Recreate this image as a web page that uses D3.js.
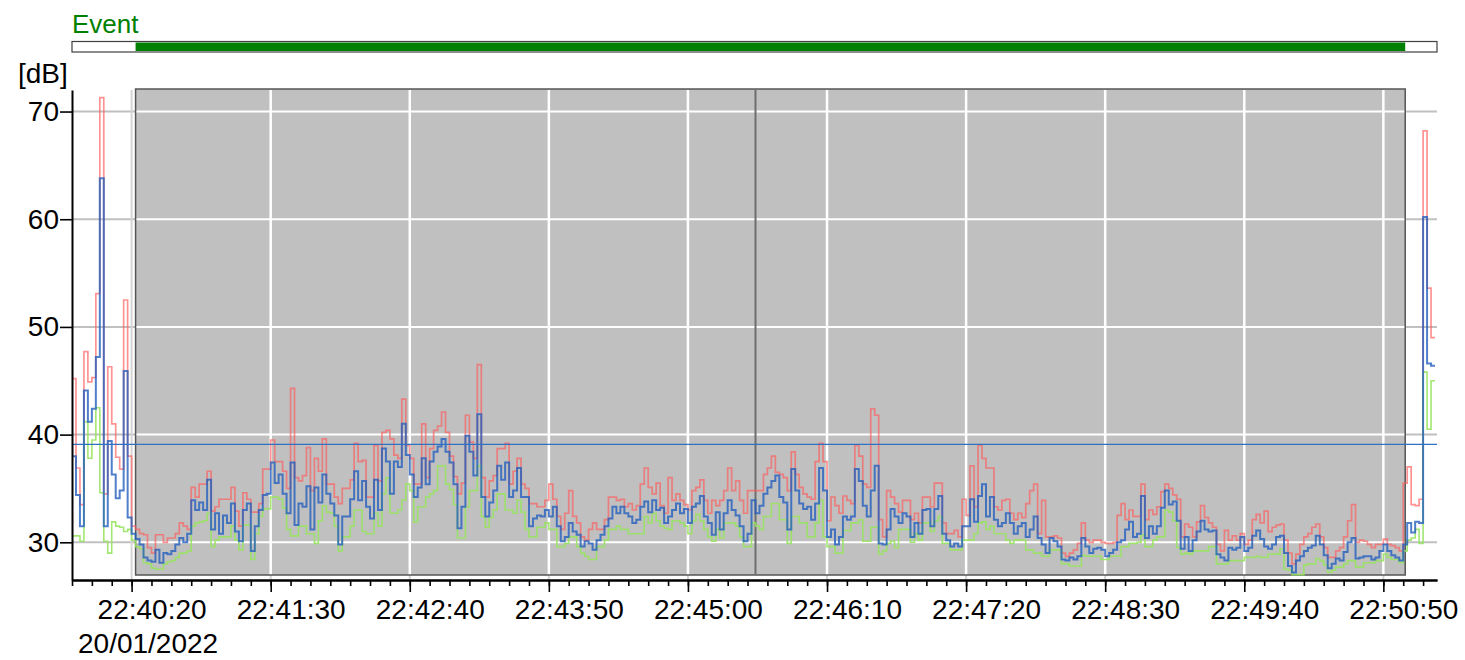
<!DOCTYPE html>
<html><head><meta charset="utf-8">
<script src="https://cdn.jsdelivr.net/npm/d3@7"></script>
<style>
body{margin:0;background:#fff;}
svg{display:block;font-family:"Liberation Sans",Arial,sans-serif;}
</style>
</head><body>
<svg id="chart" width="1465" height="660"></svg>
<script>
// ---- data ----
const seriesStart = "2022-01-20 22:39:50";
const stepSeconds = 2;
const axisStart = "2022-01-20 22:39:50";
const axisEnd = "2022-01-20 22:51:17";
const eventStart = "2022-01-20 22:40:22";
const eventEnd = "2022-01-20 22:51:01";
const cursorTime = "2022-01-20 22:45:34";
const thresholdDb = 39.1;
const yDomain = [26.5, 72];
const yTicks = [30, 40, 50, 60, 70];
const xTickLabels = ["22:40:20","22:41:30","22:42:40","22:43:50","22:45:00","22:46:10","22:47:20","22:48:30","22:49:40","22:50:50"];
const dateLabel = "20/01/2022";
const yUnit = "[dB]";
const eventLabel = "Event";

const laeq = [
38.0,34.4,31.5,44.1,41.2,42.4,47.2,63.8,31.5,39.4,36.3,34.1,34.8,45.9,32.3,
30.8,30.3,29.8,28.6,28.3,28.2,29.3,28.1,29.0,28.9,29.2,29.8,30.4,30.0,30.8,
33.9,33.0,33.7,33.0,35.8,31.2,32.7,30.8,32.5,31.8,33.6,31.0,30.1,33.0,33.6,
29.2,31.5,33.0,34.4,34.5,37.4,35.5,36.3,34.5,32.7,37.4,31.6,33.6,33.3,35.2,
31.2,35.1,33.7,36.3,34.5,33.6,32.5,29.8,32.4,32.4,34.0,36.6,33.9,35.7,33.3,32.2,35.8,33.0,38.7,37.5,
34.5,37.5,37.0,41.0,38.1,36.3,34.2,35.1,37.8,35.4,37.5,38.4,38.9,39.6,38.4,37.4,35.4,31.3,33.3,39.9,
38.4,36.2,41.9,34.2,32.4,33.7,34.8,37.1,35.8,37.4,34.2,34.8,36.9,34.2,34.2,31.5,32.2,32.5,32.4,33.0,
32.4,33.3,31.5,30.1,30.5,31.8,31.0,30.7,29.6,30.1,29.9,29.3,30.2,30.7,31.5,32.2,33.3,32.7,33.3,32.7,32.4,31.8,32.1,33.3,
33.8,32.8,33.9,33.0,33.2,31.8,32.4,33.0,33.6,32.7,33.1,31.8,33.3,33.6,34.3,32.4,31.8,30.7,32.8,31.2,
32.7,33.9,33.0,32.5,31.5,30.1,30.8,33.9,32.7,33.4,34.5,35.1,35.7,36.2,34.2,33.7,31.2,36.8,34.8,33.6,
33.1,33.3,32.1,33.6,36.9,34.8,30.5,31.2,29.8,30.5,32.4,32.1,32.4,36.8,35.7,33.4,32.4,34.8,37.1,29.9,29.8,31.2,33.1,32.4,
31.8,32.7,32.4,30.5,31.8,30.8,33.0,33.1,31.5,33.1,34.3,30.8,30.2,29.6,29.9,29.6,31.5,31.5,34.0,31.9,34.3,35.4,32.4,34.2,
32.1,31.5,31.8,32.7,31.8,30.8,31.5,31.8,30.5,31.2,32.4,30.4,29.8,29.0,30.4,30.1,29.6,28.4,28.3,28.6,28.4,28.7,30.4,29.6,
29.0,29.4,29.5,29.3,28.7,29.0,29.3,30.0,30.2,31.2,31.9,30.5,30.8,34.3,30.4,31.5,
30.8,31.5,33.2,34.8,33.5,33.8,32.0,29.4,30.5,29.2,30.2,31.0,32.0,31.2,31.0,31.1,28.9,28.6,28.3,29.5,29.3,29.5,30.5,29.2,
29.5,30.6,31.1,30.3,29.6,29.4,29.8,30.5,30.6,29.0,27.8,27.2,28.3,28.7,29.2,29.5,29.7,30.6,29.8,28.8,27.6,28.0,28.5,28.3,
29.1,30.0,30.4,28.5,28.6,28.7,28.7,28.4,28.6,29.2,29.8,29.2,28.8,28.6,28.3,29.8,31.8,30.9,31.9,31.8,60.2,46.6,46.4
];

const lafMax = [
45.2,36.9,33.5,47.7,44.9,45.3,53.1,71.3,34.5,46.3,41.0,37.9,36.8,52.5,38.0,
31.5,31.2,30.8,30.7,29.5,29.0,30.7,30.7,30.0,30.4,30.4,30.8,31.8,31.5,31.2,
35.1,34.2,35.4,35.4,36.6,32.9,33.3,34.0,34.0,34.0,35.1,32.9,31.5,34.6,34.0,
32.8,32.8,33.6,36.8,36.8,39.5,37.5,37.5,36.6,35.0,44.3,36.0,35.7,36.2,38.8,
34.8,37.8,36.6,39.6,35.4,35.4,34.2,33.6,35.0,35.0,35.8,39.2,37.5,37.6,34.2,34.2,39.0,35.7,40.2,40.4,
39.6,38.1,37.8,43.3,39.0,37.8,35.4,35.4,41.0,36.0,38.7,40.4,40.8,42.1,40.2,38.0,36.1,34.5,35.5,41.8,
39.3,37.8,46.5,36.0,34.2,35.7,36.2,38.7,38.7,39.2,35.4,36.6,37.8,35.4,35.0,33.6,33.6,33.3,33.3,33.9,
35.4,34.0,32.4,31.2,32.7,34.8,32.4,31.8,30.5,30.2,31.2,31.8,31.2,31.2,32.1,34.2,34.2,33.9,34.0,33.3,33.6,33.0,33.4,35.4,
36.9,35.1,34.5,35.5,33.4,32.7,36.0,33.9,34.5,33.9,33.5,33.0,34.8,35.1,35.8,33.9,32.7,33.9,33.4,33.9,
34.8,36.9,34.8,35.7,33.9,32.7,34.8,34.8,34.8,34.8,36.3,36.9,38.0,36.5,36.3,36.0,34.8,38.4,36.3,35.1,
34.5,34.2,34.0,37.5,39.2,37.5,32.0,34.2,33.4,32.7,34.3,33.9,33.6,39.0,38.0,35.4,35.1,42.4,41.8,32.1,30.5,34.8,34.2,33.6,
32.8,33.9,33.9,32.1,32.7,31.8,34.2,34.2,33.3,35.5,35.5,31.8,30.8,30.8,31.1,30.5,34.0,32.5,37.1,33.3,39.0,37.8,36.9,36.9,
33.3,33.0,33.9,34.0,32.7,32.1,32.7,32.3,33.6,34.8,35.4,30.8,33.9,30.5,30.5,30.6,30.4,29.0,28.7,29.0,29.3,29.9,31.8,30.2,
30.0,30.2,30.2,30.0,29.9,29.9,30.0,32.5,33.6,32.1,33.0,32.4,32.4,35.4,32.1,33.0,
32.6,33.3,34.7,35.4,35.0,34.4,34.0,30.5,31.7,31.4,30.5,31.9,33.4,32.3,31.8,31.4,29.8,29.2,31.1,30.2,30.6,30.2,30.8,29.8,
30.2,32.1,32.6,31.8,32.9,31.0,31.4,31.6,31.7,30.2,29.0,28.0,28.9,29.8,30.5,30.8,31.4,31.7,30.5,29.5,28.6,28.6,29.2,29.5,
30.5,32.0,33.5,30.0,30.2,30.1,29.8,29.5,29.8,29.8,30.3,29.8,29.7,29.5,29.2,35.5,37.0,33.5,33.4,34.0,68.2,53.6,49.0
];

const lafMin = [
30.6,30.6,30.1,41.2,37.8,39.5,42.5,34.6,30.1,29.0,31.9,31.5,31.4,31.0,31.2,
30.2,29.6,29.4,28.1,28.0,27.6,27.5,27.5,28.0,28.2,28.3,28.6,29.0,29.0,29.2,
31.5,31.8,31.9,32.0,32.7,29.6,30.2,30.5,30.5,30.5,31.5,30.2,29.3,31.6,31.6,
28.4,30.8,32.4,33.1,33.1,34.2,34.2,34.0,33.2,31.2,30.6,30.6,31.5,31.5,30.8,
30.8,29.9,32.0,33.4,32.8,32.7,31.5,29.2,30.5,30.5,31.5,33.0,33.0,31.0,30.8,30.8,32.7,31.5,34.5,36.0,
32.7,32.7,33.0,33.9,35.4,34.8,31.9,33.3,33.3,34.2,34.5,34.8,37.1,37.1,35.4,34.9,33.5,30.4,30.4,33.3,
34.8,34.8,37.1,32.4,31.4,32.3,33.0,34.5,34.5,33.0,33.0,32.7,33.9,32.8,31.2,30.5,30.5,31.4,31.4,31.8,
31.2,31.2,29.6,29.6,29.9,30.5,30.5,29.6,29.0,28.7,28.4,28.4,29.6,29.6,30.2,31.2,31.2,31.5,31.2,31.2,30.8,30.8,30.8,30.8,
32.4,31.8,32.7,32.0,31.5,31.3,31.2,32.0,32.0,31.8,31.5,30.8,32.0,32.6,32.0,31.2,30.5,30.1,31.2,30.4,
31.8,31.8,31.8,31.5,30.5,29.6,29.6,31.8,31.5,31.2,32.4,32.4,33.6,33.6,32.1,32.1,29.9,32.4,32.4,31.8,
31.8,30.5,30.5,31.8,33.9,30.5,29.6,29.6,29.0,29.0,31.1,31.1,31.8,31.8,32.1,30.1,30.1,31.4,31.4,28.9,29.2,29.9,30.1,29.5,
31.2,31.2,31.2,30.0,30.8,30.2,31.8,31.8,31.0,32.0,32.4,29.9,29.9,29.3,29.3,29.3,30.2,30.2,30.2,30.8,31.8,31.9,31.2,31.5,
30.8,30.8,30.8,30.2,29.9,30.2,30.2,30.2,29.3,29.3,29.0,29.0,28.7,28.7,29.3,29.3,29.3,28.0,28.0,27.8,27.8,27.8,28.8,28.7,
28.7,28.7,28.7,28.4,28.4,28.7,28.7,28.7,29.6,29.6,29.9,29.9,30.0,30.7,29.6,29.6,
30.2,30.5,30.5,33.0,32.8,32.0,29.5,28.9,29.0,28.9,29.2,29.2,29.2,29.2,29.6,29.6,28.0,28.0,28.0,28.3,28.3,28.3,28.3,28.6,
28.6,28.6,28.7,28.6,28.6,28.9,28.9,28.9,29.4,27.5,27.4,27.0,27.0,27.0,27.9,28.0,28.0,28.5,28.3,27.9,27.2,27.4,27.7,27.7,
28.0,28.3,28.3,27.7,27.7,28.1,28.1,28.1,28.3,28.3,28.9,28.6,28.4,28.4,28.1,29.2,30.2,30.4,31.2,29.9,45.8,40.5,45.0
];

// ---- chart ----
const parse = d3.timeParse("%Y-%m-%d %H:%M:%S");
const datePart = axisStart.slice(0, 10);
const svg = d3.select("#chart");

const x = d3.scaleTime().domain([parse(axisStart), parse(axisEnd)]).range([72, 1437]);
const y = d3.scaleLinear().domain(yDomain).range([580, 90]);

const t0 = parse(seriesStart);
function toPoints(vals) {
  const pts = vals.map((v, i) => ({t: d3.timeSecond.offset(t0, i * stepSeconds), v}));
  pts.push({t: d3.timeSecond.offset(t0, vals.length * stepSeconds), v: vals[vals.length - 1]});
  return pts;
}
const majorTimes = xTickLabels.map(s => parse(datePart + " " + s));
const minorTimes = d3.timeSecond.every(10).range(parse(axisStart), d3.timeSecond.offset(parse(axisEnd), 1));

const evX0 = x(parse(eventStart)), evX1 = x(parse(eventEnd));
const plotTop = y.range()[1], plotBottom = y.range()[0];
const [xL, xR] = x.range();

// Event bar
svg.append("text").attr("x", xL).attr("y", 33).attr("fill", "#008000")
  .attr("font-size", 26).text(eventLabel);
svg.append("rect").attr("x", xL).attr("y", 41.5).attr("width", xR - xL).attr("height", 10.5)
  .attr("fill", "#fff").attr("stroke", "#404040").attr("stroke-width", 1.2);
svg.append("rect").attr("x", evX0).attr("y", 42.5).attr("width", evX1 - evX0).attr("height", 8.5)
  .attr("fill", "#008000");

// unit label
svg.append("text").attr("x", 18).attr("y", 83).attr("font-size", 28).attr("fill", "#000").text(yUnit);

// Gridlines (outside event) - gray
const grid = svg.append("g");
grid.selectAll("line.h").data(yTicks).join("line")
  .attr("x1", xL).attr("x2", xR).attr("y1", d => y(d)).attr("y2", d => y(d))
  .attr("stroke", "#c0c0c0").attr("stroke-width", 2);
grid.selectAll("line.v").data(majorTimes).join("line")
  .attr("x1", d => x(d)).attr("x2", d => x(d)).attr("y1", plotTop).attr("y2", plotBottom)
  .attr("stroke", "#d4d4d4").attr("stroke-width", 2);

// Event region
const evTop = plotTop - 1, evH = plotBottom - 5 - plotTop + 1;
svg.append("defs").append("clipPath").attr("id", "evclip").append("rect")
  .attr("x", evX0).attr("y", evTop).attr("width", evX1 - evX0).attr("height", evH);
svg.append("rect").attr("x", evX0).attr("y", evTop).attr("width", evX1 - evX0)
  .attr("height", evH).attr("fill", "#c0c0c0");
const wgrid = svg.append("g").attr("clip-path", "url(#evclip)");
wgrid.selectAll("line.h").data(yTicks).join("line")
  .attr("x1", xL).attr("x2", xR).attr("y1", d => y(d)).attr("y2", d => y(d))
  .attr("stroke", "#ffffff").attr("stroke-width", 2);
wgrid.selectAll("line.v").data(majorTimes).join("line")
  .attr("x1", d => x(d)).attr("x2", d => x(d)).attr("y1", plotTop).attr("y2", plotBottom)
  .attr("stroke", "#ffffff").attr("stroke-width", 2.5);
svg.append("rect").attr("x", evX0).attr("y", evTop).attr("width", evX1 - evX0)
  .attr("height", evH).attr("fill", "none")
  .attr("stroke", "#555").attr("stroke-width", 1.5);

// cursor line
svg.append("line").attr("x1", x(parse(cursorTime))).attr("x2", x(parse(cursorTime)))
  .attr("y1", evTop).attr("y2", evTop + evH).attr("stroke", "#6e6e6e").attr("stroke-width", 2);

// series
const line = d3.line().x(d => x(d.t)).y(d => y(d.v)).curve(d3.curveStepAfter);
const series = [
  {vals: lafMax, color: "rgba(255,90,90,0.66)", w: 1.7},
  {vals: lafMin, color: "rgba(150,228,95,0.88)", w: 1.6},
  {vals: laeq, color: "rgba(35,95,190,0.8)", w: 2.0}
];
svg.append("g").selectAll("path").data(series).join("path")
  .attr("d", d => line(toPoints(d.vals)))
  .attr("fill", "none").attr("stroke", d => d.color).attr("stroke-width", d => d.w)
  .attr("stroke-linejoin", "miter");

// threshold
svg.append("line").attr("x1", xL).attr("x2", xR).attr("y1", y(thresholdDb)).attr("y2", y(thresholdDb))
  .attr("stroke", "#2f72c4").attr("stroke-width", 1.3);

// axes
const gx = svg.append("g").attr("transform", `translate(0,${plotBottom})`);
gx.append("g").call(d3.axisBottom(x).tickValues(minorTimes).tickSize(6).tickSizeOuter(0).tickFormat(""));
gx.append("g").call(d3.axisBottom(x).tickValues(majorTimes).tickSize(12).tickSizeOuter(0).tickPadding(7)
  .tickFormat((d, i) => xTickLabels[i]));
gx.selectAll("path.domain").attr("stroke", "#000").attr("stroke-width", 2);
gx.selectAll(".tick line").attr("stroke", "#000").attr("stroke-width", 1.6);
gx.selectAll("text").attr("font-size", 28).attr("font-family", "Liberation Sans, Arial, sans-serif")
  .attr("fill", "#000").attr("dx", 20);
svg.append("text").attr("x", 78).attr("y", 653).attr("font-size", 28).attr("fill", "#000").text(dateLabel);

const gy = svg.append("g").attr("transform", `translate(${xL},0)`)
  .call(d3.axisLeft(y).tickValues(yTicks).tickSize(12).tickSizeOuter(0).tickPadding(1));
gy.select("path.domain").attr("stroke", "#000").attr("stroke-width", 2);
gy.selectAll(".tick line").attr("stroke", "#000").attr("stroke-width", 1.6);
gy.selectAll("text").attr("font-size", 28).attr("font-family", "Liberation Sans, Arial, sans-serif").attr("fill", "#000");
</script>
</body></html>
